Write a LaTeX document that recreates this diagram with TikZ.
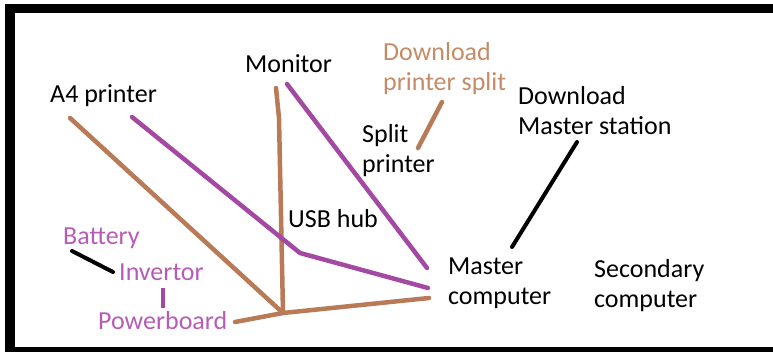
\documentclass[tikz,border=0pt]{standalone}
\usepackage{fontspec}
\setmainfont{Carlito}
\definecolor{cable}{HTML}{B97A57}
\definecolor{data}{HTML}{A349A4}
\definecolor{cabletext}{HTML}{C48B66}
\definecolor{datatext}{HTML}{B65CB7}
\tikzset{
  lbl/.style={anchor=base west, inner sep=0pt, align=left,
    font=\fontsize{26}{30.5}\selectfont},
  wire/.style={line width=4.5pt, line cap=round, line join=round},
  brownwire/.style={wire, draw=cable},
  purplewire/.style={wire, draw=data},
  blackwire/.style={wire, draw=black, line width=4pt},
}
\begin{document}
\begin{tikzpicture}[x=1pt, y=-1pt]
  \useasboundingbox (0,0) rectangle (773,352);
  % outer frame (open on the right)
  \fill[black] (5,4) rectangle (773,13);
  \fill[black] (5,4) rectangle (15,352);
  \fill[black] (5,347) rectangle (773,352);

  % labels (two-line labels are placed by the baseline of their last line)
  \node[lbl] (a4) at (50,103) {A4 printer};
  \node[lbl] (mon) at (245,73) {Monitor};
  \node[lbl, text=cabletext] (dps) at (383,91) {Download\\printer split};
  \node[lbl] (dms) at (518,135) {Download\\Master station};
  \node[lbl] (split) at (362,173) {Split\\printer};
  \node[lbl] (usb) at (288,228) {USB hub};
  \node[lbl, text=datatext] (bat) at (63,245) {Battery};
  \node[lbl, text=datatext] (inv) at (119,281) {Invertor};
  \node[lbl, text=datatext] (pwr) at (98,330) {Powerboard};
  \node[lbl] (mc) at (448,305) {Master\\computer};
  \node[lbl] (sc) at (594,308) {Secondary\\computer};

  % wire end points
  \coordinate (a4b) at (70,118);
  \coordinate (a4p) at (132,117);
  \coordinate (monb) at (276,88);
  \coordinate (monbj) at (279,118);
  \coordinate (monp) at (287,84);
  \coordinate (hub) at (283,313);
  \coordinate (bend) at (300,253);
  \coordinate (mcA) at (427,268);
  \coordinate (mcB) at (428,288);
  \coordinate (mcC) at (429,298);
  \coordinate (pwrR) at (235,322);
  \coordinate (dpsT) at (442,102);
  \coordinate (dpsB) at (418,148);
  \coordinate (dmsT) at (577,142);
  \coordinate (dmsB) at (512,247);
  \coordinate (batR) at (72,251);
  \coordinate (invL) at (113,272);
  \coordinate (invB) at (163,288);
  \coordinate (pwrT) at (163,308);

  % cables
  \draw[brownwire] (a4b) -- (hub);
  \draw[brownwire] (monb) -- (monbj) -- (hub);
  \draw[brownwire] (pwrR) -- (hub) -- (mcC);
  \draw[brownwire] (dpsT) -- (dpsB);
  \draw[purplewire] (a4p) -- (bend) -- (mcB);
  \draw[purplewire] (monp) -- (mcA);
  \draw[purplewire, line cap=butt] (invB) -- (pwrT);
  \draw[blackwire] (dmsT) -- (dmsB);
  \draw[blackwire] (batR) -- (invL);
\end{tikzpicture}
\end{document}
